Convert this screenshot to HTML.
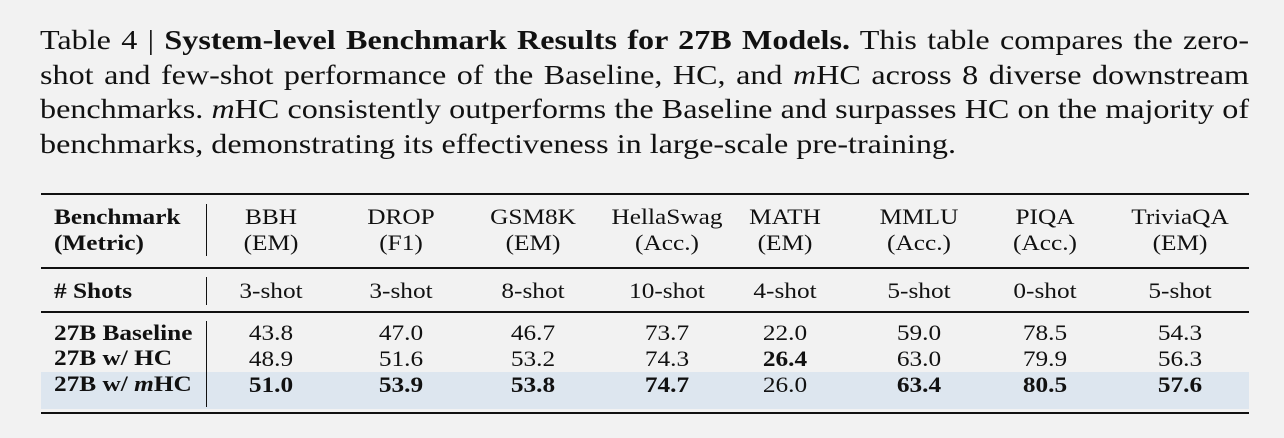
<!DOCTYPE html>
<html><head><meta charset="utf-8"><style>
body{margin:0;width:1284px;height:438px;background:#f2f2f2;font-family:"Liberation Serif",serif;color:#111;position:relative;overflow:hidden}
.cap{position:absolute;left:40px;width:1016px;font-size:27px;line-height:34.5px;white-space:nowrap;transform:scaleX(1.19);transform-origin:0 0}
.j{text-align:justify;text-align-last:justify}
.rule{position:absolute;left:41px;width:1208px;background:#111}
.t{position:absolute;font-size:22px;line-height:26px;text-align:center;transform:translateX(-50%) scaleX(1.15);white-space:nowrap}
.l{position:absolute;left:54px;font-size:22px;line-height:26px;font-weight:bold;white-space:nowrap;transform:scaleX(1.15);transform-origin:0 0}
.v{position:absolute;left:206px;width:1px;background:#111}
b{font-weight:bold}
</style></head><body>
<div class="cap j" style="top:23px">Table 4 | <b>System-level Benchmark Results for 27B Models.</b> This table compares the zero-</div>
<div class="cap j" style="top:57.5px">shot and few-shot performance of the Baseline, HC, and <i>m</i>HC across 8 diverse downstream</div>
<div class="cap j" style="top:92px">benchmarks. <i>m</i>HC consistently outperforms the Baseline and surpasses HC on the majority of</div>
<div class="cap" style="top:126.5px">benchmarks, demonstrating its effectiveness in large-scale pre-training.</div>

<div class="rule" style="top:193px;height:2px"></div>
<div class="rule" style="top:267px;height:1.5px"></div>
<div class="rule" style="top:311px;height:1.5px"></div>
<div style="position:absolute;left:41px;width:1208px;top:372px;height:37px;background:#dde6ef"></div>
<div class="rule" style="top:412px;height:2px"></div>
<div class="v" style="top:204px;height:52px"></div>
<div class="v" style="top:277px;height:28px"></div>
<div class="v" style="top:321px;height:86px"></div>

<div class="l" style="top:204px">Benchmark<br>(Metric)</div>
<div class="l" style="top:278px"># Shots</div>
<div class="l" style="top:320px">27B Baseline</div>
<div class="l" style="top:345px">27B w/ HC</div>
<div class="l" style="top:371px">27B w/ <i>m</i>HC</div>

<div class="t" style="left:271px;top:204px">BBH<br>(EM)</div>
<div class="t" style="left:401px;top:204px">DROP<br>(F1)</div>
<div class="t" style="left:533px;top:204px">GSM8K<br>(EM)</div>
<div class="t" style="left:667px;top:204px">HellaSwag<br>(Acc.)</div>
<div class="t" style="left:785px;top:204px">MATH<br>(EM)</div>
<div class="t" style="left:919px;top:204px">MMLU<br>(Acc.)</div>
<div class="t" style="left:1045px;top:204px">PIQA<br>(Acc.)</div>
<div class="t" style="left:1180px;top:204px">TriviaQA<br>(EM)</div>

<div class="t" style="left:271px;top:278px">3-shot</div>
<div class="t" style="left:401px;top:278px">3-shot</div>
<div class="t" style="left:533px;top:278px">8-shot</div>
<div class="t" style="left:667px;top:278px">10-shot</div>
<div class="t" style="left:785px;top:278px">4-shot</div>
<div class="t" style="left:919px;top:278px">5-shot</div>
<div class="t" style="left:1045px;top:278px">0-shot</div>
<div class="t" style="left:1180px;top:278px">5-shot</div>

<div class="t" style="left:271px;top:320px">43.8<br>48.9<br><b>51.0</b></div>
<div class="t" style="left:401px;top:320px">47.0<br>51.6<br><b>53.9</b></div>
<div class="t" style="left:533px;top:320px">46.7<br>53.2<br><b>53.8</b></div>
<div class="t" style="left:667px;top:320px">73.7<br>74.3<br><b>74.7</b></div>
<div class="t" style="left:785px;top:320px">22.0<br><b>26.4</b><br>26.0</div>
<div class="t" style="left:919px;top:320px">59.0<br>63.0<br><b>63.4</b></div>
<div class="t" style="left:1045px;top:320px">78.5<br>79.9<br><b>80.5</b></div>
<div class="t" style="left:1180px;top:320px">54.3<br>56.3<br><b>57.6</b></div>
</body></html>
